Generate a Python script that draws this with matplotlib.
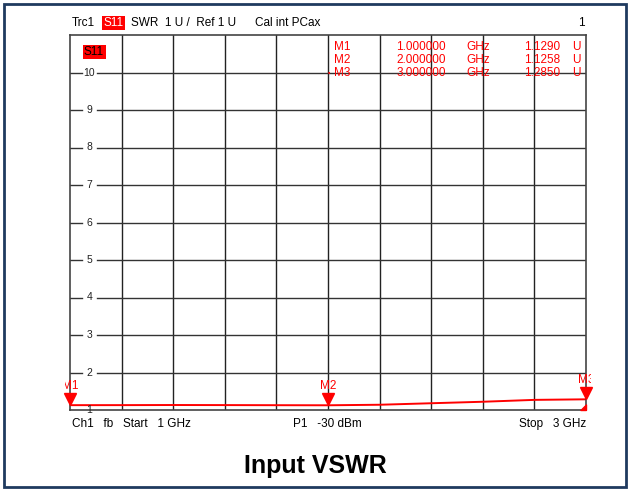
import matplotlib.pyplot as plt
import matplotlib.transforms as mtransforms
from matplotlib.patches import Rectangle
from matplotlib.path import Path
import numpy as np

plt.rcParams['font.family'] = ['Liberation Sans', 'DejaVu Sans']

# trace (GHz, SWR)
freq_ghz = [1.0, 1.2, 1.4, 1.6, 1.8, 2.0, 2.2, 2.4, 2.6, 2.8, 3.0]
swr = [1.129, 1.130, 1.133, 1.131, 1.128, 1.1258, 1.14, 1.18, 1.22, 1.27, 1.285]

marker_names = ['M1', 'M2', 'M3']
marker_freq = [1.0, 2.0, 3.0]
marker_swr = [1.1290, 1.1258, 1.2850]

y_ticks = [1, 2, 3, 4, 5, 6, 7, 8, 9, 10]
x_grid = [1.2, 1.4, 1.6, 1.8, 2.0, 2.2, 2.4, 2.6, 2.8]

RED = '#ff0000'
W, H = 630, 491


def px(x, y):
    return x / W, 1 - y / H


fig = plt.figure(figsize=(6.3, 4.91), dpi=100)
fig.patches.append(Rectangle((4 / W, 4 / H), 622 / W, 483 / H, transform=fig.transFigure,
                             fill=False, ec='#1f3a5f', lw=2))

ax = fig.add_axes([70 / W, 1 - 410 / H, 516 / W, 375 / H])
ax.set_xlim(1, 3)
ax.set_ylim(1, 11)
ax.set_xticks([])
ax.set_yticks([])
for s in ax.spines.values():
    s.set_color('#444444')
    s.set_linewidth(1.2)

for xg in x_grid:
    ax.axvline(xg, color='#222222', lw=1)

# horizontal grid with the labels cut into the line
for yt in y_ticks:
    if yt > 1:
        ax.plot([1, 1.045], [yt, yt], color='#333333', lw=1)
        ax.plot([1.105, 3], [yt, yt], color='#333333', lw=1)
    ax.text(1.075, yt, str(yt), ha='center', va='center', fontsize=7.5, color='#222222')

ax.plot(freq_ghz, swr, color=RED, lw=1.4)

# marker labels get cut just outside the graticule, like on the VNA screen
clip = Rectangle((-0.01, 0), 1.02, 1.0, transform=ax.transAxes)
tri_off = mtransforms.offset_copy(ax.transData, fig=fig, x=0, y=4.5, units='points')
for name, f, v in zip(marker_names, marker_freq, marker_swr):
    ax.plot([f], [v], marker='v', ms=9, color=RED, transform=tri_off, clip_on=False, zorder=5)
    t = ax.annotate(name, (f, v), xytext=(0, 14), textcoords='offset points',
                    ha='center', va='center', color=RED, fontsize=8.5)
    t.set_clip_on(True)
    t.set_clip_path(clip)

corner = Path([(0, 0), (-1, 0), (0, 1), (0, 0)])
ax.plot([3], [1], marker=corner, ms=8, color=RED, clip_on=False, zorder=6)

# header line
fs = 8.5
fig.text(*px(72, 23), 'Trc1', fontsize=fs, va='center')
fig.text(*px(103, 23), 'S11', fontsize=fs, va='center', color='white',
         bbox=dict(boxstyle='square,pad=0.12', fc=RED, ec='none'))
fig.text(*px(131, 23), 'SWR  1 U /  Ref 1 U', fontsize=fs, va='center')
fig.text(*px(255, 23), 'Cal int PCax', fontsize=fs, va='center')
fig.text(*px(585, 23), '1', fontsize=fs, va='center', ha='right')

fig.text(*px(84, 52), 'S11', fontsize=fs, va='center', color='black',
         bbox=dict(boxstyle='square,pad=0.12', fc=RED, ec='none'))

# marker table
for i, (name, f, v) in enumerate(zip(marker_names, marker_freq, marker_swr)):
    yy = 47 + i * 13
    fig.text(*px(334, yy), name, fontsize=fs, va='center', color=RED)
    fig.text(*px(446, yy), '%.6f' % f, fontsize=fs, va='center', ha='right', color=RED)
    fig.text(*px(466, yy), 'GHz', fontsize=fs, va='center', color=RED)
    fig.text(*px(560, yy), '%.4f' % v, fontsize=fs, va='center', ha='right', color=RED)
    fig.text(*px(572, yy), 'U', fontsize=fs, va='center', color=RED)
fig.text(*px(329, 73), '\u2022', fontsize=5, va='center', ha='center', color=RED)

# footer
fig.text(*px(72, 424), 'Ch1   fb   Start   1 GHz', fontsize=fs, va='center')
fig.text(*px(293, 424), 'P1   -30 dBm', fontsize=fs, va='center')
fig.text(*px(586, 424), 'Stop   3 GHz', fontsize=fs, va='center', ha='right')

fig.text(*px(315, 466), 'Input VSWR', fontsize=18, fontweight='bold', va='center', ha='center')

fig.savefig('out.png', dpi=100)
